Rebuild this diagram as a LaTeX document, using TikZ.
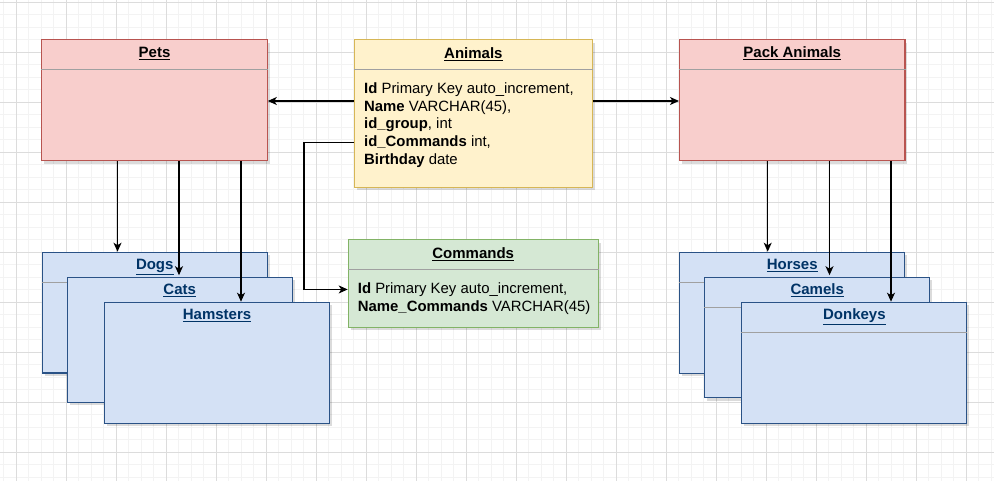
\documentclass[tikz,border=0pt]{standalone}
\usepackage{fontspec}
\setmainfont{Liberation Sans}
\usetikzlibrary{arrows.meta,calc,shadows}
\definecolor{pinkfill}{HTML}{F8CECC}
\definecolor{pinkdraw}{HTML}{B85450}
\definecolor{yelfill}{HTML}{FFF2CC}
\definecolor{yeldraw}{HTML}{D6B656}
\definecolor{grnfill}{HTML}{D5E8D4}
\definecolor{grndraw}{HTML}{82B366}
\definecolor{blufill}{HTML}{D4E1F5}
\definecolor{bludraw}{HTML}{2A5286}
\definecolor{blutext}{HTML}{003366}
\definecolor{divcol}{HTML}{A0A0A0}
\definecolor{minorcol}{HTML}{F3F3F3}
\definecolor{majorcol}{HTML}{DCDCDC}
\tikzset{
  box/.style={draw, line width=1.1pt, anchor=north west, inner sep=0pt,
    drop shadow={shadow xshift=2.5pt, shadow yshift=-3pt, opacity=0.14, fill=black}},
  pinkbox/.style={box, fill=pinkfill, draw=pinkdraw},
  yelbox/.style={box, fill=yelfill, draw=yeldraw},
  grnbox/.style={box, fill=grnfill, draw=grndraw},
  blubox/.style={box, fill=blufill, draw=bludraw},
  ttl/.style={anchor=base, inner sep=0pt, font=\fontsize{15}{18}\selectfont\bfseries},
  bluttl/.style={ttl, text=blutext},
  txt/.style={anchor=base west, inner sep=0pt, font=\fontsize{14.9}{17.8}\selectfont},
  divider/.style={draw=divcol, line width=1.1pt},
  arr/.style={draw=black, line width=1.25pt, -{Stealth[length=9pt,width=8pt,inset=2.5pt]}},
  minorline/.style={draw=minorcol, line width=0.8pt},
  majorline/.style={draw=majorcol, line width=0.8pt}
}
\newcommand{\ulbf}[1]{\underline{#1}}
\begin{document}
\begin{tikzpicture}[x=1pt,y=-1pt]
\useasboundingbox (0,0) rectangle (994,481);
\fill[white] (0,0) rectangle (994,481);
% grid
\foreach \i in {0,...,79} {\draw[minorline] ({3.5+12.5*\i},0) -- ({3.5+12.5*\i},481);}
\foreach \i in {0,...,38} {\draw[minorline] (0,{2.3+12.5*\i}) -- (994,{2.3+12.5*\i});}
\foreach \i in {0,...,19} {\draw[majorline] ({16+50*\i},0) -- ({16+50*\i},481);}
\foreach \i in {0,...,9} {\draw[majorline] (0,{2.3+50*\i}) -- (994,{2.3+50*\i});}

% Pets
\node[pinkbox, minimum width=225.4pt, minimum height=120.7pt] (pets) at (41.3,39.3) {};
\draw[divider] ($(pets.north west)+(0,30.5)$) -- ($(pets.north east)+(0,30.5)$);
\node[ttl] (petsT) at ($(pets.north)+(0,18.5)$) {\ulbf{Pets}};

% Animals
\node[yelbox, minimum width=237.7pt, minimum height=147.4pt] (animals) at (354,39.3) {};
\draw[divider] ($(animals.north west)+(0,30.2)$) -- ($(animals.north east)+(0,30.2)$);
\node[ttl] (animalsT) at ($(animals.north)+(0,19)$) {\ulbf{Animals}};
\node[txt] (a1) at (364,93.3) {\textbf{Id} Primary Key auto\_increment,};
\node[txt] (a2) at (364,111.1) {\textbf{Name} VARCHAR(45),};
\node[txt] (a3) at (364,128.9) {\textbf{id\_group}, int};
\node[txt] (a4) at (364,146.7) {\textbf{id\_Commands} int,};
\node[txt] (a5) at (364,164.5) {\textbf{Birthday} date};

% Pack Animals
\node[pinkbox, minimum width=225.4pt, minimum height=120.7pt] (pack) at (679,39.3) {};
\draw[divider] ($(pack.north west)+(0,30.5)$) -- ($(pack.north east)+(0,30.5)$);
\node[ttl] (packT) at ($(pack.north)+(0,18.5)$) {\ulbf{Pack Animals}};

% Commands
\node[grnbox, minimum width=250pt, minimum height=87.4pt] (commands) at (347.7,239.3) {};
\draw[divider] ($(commands.north west)+(0,30)$) -- ($(commands.north east)+(0,30)$);
\node[ttl] (commandsT) at ($(commands.north)+(0,19)$) {\ulbf{Commands}};
\node[txt] (c1) at (357.7,293.3) {\textbf{Id} Primary Key auto\_increment,};
\node[txt] (c2) at (357.7,311.1) {\textbf{Name\_Commands} VARCHAR(45)};

% Pets children
\node[blubox, minimum width=225pt, minimum height=120.7pt] (dogs) at (41.7,251.7) {};
\draw[divider] ($(dogs.north west)+(0,30.6)$) -- ($(dogs.north east)+(0,30.6)$);
\node[bluttl] (dogsT) at ($(dogs.north)+(0,17.8)$) {\ulbf{Dogs}};
\node[blubox, minimum width=225pt, minimum height=125pt] (cats) at (66.7,276.7) {};
\node[bluttl] (catsT) at ($(cats.north)+(0,17.8)$) {\ulbf{Cats}};
\node[blubox, minimum width=225pt, minimum height=121pt] (hamsters) at (104,301.7) {};
\node[bluttl] (hamstersT) at ($(hamsters.north)+(0,17.8)$) {\ulbf{Hamsters}};

% Pack children
\node[blubox, minimum width=225.3pt, minimum height=121pt] (horses) at (679,251.7) {};
\draw[divider] ($(horses.north west)+(0,31)$) -- ($(horses.north east)+(0,31)$);
\node[bluttl] (horsesT) at ($(horses.north)+(0,17.8)$) {\ulbf{Horses}};
\node[blubox, minimum width=225.3pt, minimum height=120.6pt] (camels) at (704,276.7) {};
\draw[divider] ($(camels.north west)+(0,31)$) -- ($(camels.north east)+(0,31)$);
\node[bluttl] (camelsT) at ($(camels.north)+(0,17.8)$) {\ulbf{Camels}};
\node[blubox, minimum width=225pt, minimum height=121pt] (donkeys) at (741.3,301.7) {};
\draw[divider] ($(donkeys.north west)+(0,30.6)$) -- ($(donkeys.north east)+(0,30.6)$);
\node[bluttl] (donkeysT) at ($(donkeys.north)+(0,17.8)$) {\ulbf{Donkeys}};

% connector x positions
\coordinate (xd) at (117.5,0);
\coordinate (xc) at (179,0);
\coordinate (xh) at (241,0);
\coordinate (xho) at (767.7,0);
\coordinate (xca) at (829.5,0);
\coordinate (xdo) at (891,0);
\coordinate (ylink) at (0,101);
\coordinate (xbend) at (304,0);

% connectors
\draw[arr] (animals.west |- ylink) -- (pets.east |- ylink);
\draw[arr] (animals.east |- ylink) -- (pack.west |- ylink);
\draw[arr] (animals.west |- a4) -| (xbend |- c1) -- (commands.west |- c1);

\draw[arr] (pets.south -| xd) -- (dogs.north -| xd);
\draw[arr] (pets.south -| xc) -- ($(cats.north -| xc)+(0,-1.5)$);
\draw[arr] (pets.south -| xh) -- (hamsters.north -| xh);
\draw[arr] (pack.south -| xho) -- (horses.north -| xho);
\draw[arr] (pack.south -| xca) -- ($(camels.north -| xca)+(0,-1.5)$);
\draw[arr] (pack.south -| xdo) -- (donkeys.north -| xdo);
\end{tikzpicture}
\end{document}
